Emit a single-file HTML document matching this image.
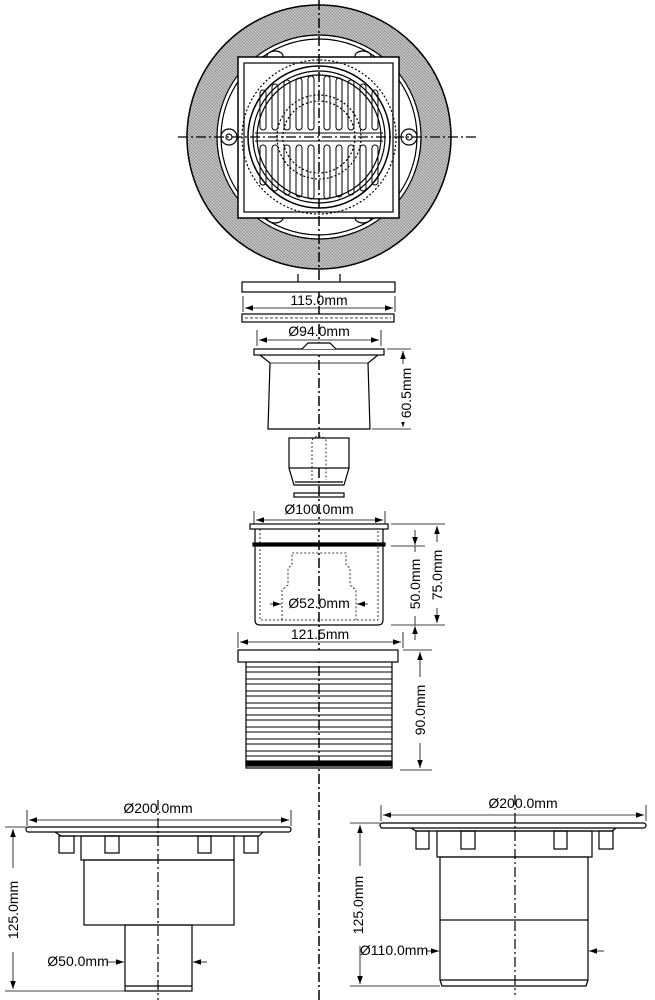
<!DOCTYPE html>
<html><head><meta charset="utf-8"><style>
html,body{margin:0;padding:0;background:#fff}
svg{display:block}
text{font-family:"Liberation Sans",sans-serif;font-size:14px;fill:#000}
</style></head><body>
<svg width="655" height="1000" viewBox="0 0 655 1000" xmlns="http://www.w3.org/2000/svg">
<defs>
<marker id="a" viewBox="0 0 10 10" refX="10" refY="5" markerWidth="8" markerHeight="8" orient="auto-start-reverse" markerUnits="userSpaceOnUse"><path d="M0,1.5 L10,5 L0,8.5z" fill="#000"/></marker>
<pattern id="hp" width="3" height="3" patternUnits="userSpaceOnUse"><rect width="3" height="3" fill="#c4c4c4"/><path d="M0,0L3,3" stroke="#777" stroke-width="0.6"/></pattern>
</defs>
<g fill="none" stroke="#000" stroke-width="1.2">
<circle cx="319" cy="137" r="117" stroke-width="30" stroke="url(#hp)"/>
<circle cx="319" cy="137" r="132" stroke-width="1.5"/>
<circle cx="319" cy="137" r="102" fill="#fff"/>
<circle cx="319" cy="137" r="98"/>
<circle cx="229" cy="137" r="8" fill="#fff"/><circle cx="229" cy="137" r="3"/>
<circle cx="409" cy="137" r="8" fill="#fff"/><circle cx="409" cy="137" r="3"/>
<ellipse cx="275" cy="56" rx="8" ry="5"/><ellipse cx="363" cy="56" rx="8" ry="5"/>
<ellipse cx="275" cy="218" rx="8" ry="5"/><ellipse cx="363" cy="218" rx="8" ry="5"/>
<rect x="238" y="57" width="161" height="161" fill="#fff" stroke-width="1.5"/>
<rect x="244" y="63" width="149" height="149"/>
<circle cx="319" cy="137" r="77" stroke-dasharray="2 2"/>
<circle cx="319" cy="137" r="71" stroke-width="1.5"/>
<circle cx="319" cy="137" r="66"/>
<circle cx="319" cy="137" r="62"/>
<circle cx="319" cy="137" r="36" stroke-dasharray="2 2"/>
<circle cx="319" cy="137" r="42" stroke-dasharray="2 2"/>
<g stroke-width="1">
<rect x="260" y="90" width="6" height="40" rx="3"/><rect x="272" y="84" width="6" height="46" rx="3"/><rect x="284" y="80" width="6" height="50" rx="3"/><rect x="296" y="78" width="6" height="52" rx="3"/><rect x="308" y="76" width="6" height="54" rx="3"/>
<rect x="324" y="76" width="6" height="54" rx="3"/><rect x="336" y="78" width="6" height="52" rx="3"/><rect x="348" y="80" width="6" height="50" rx="3"/><rect x="360" y="84" width="6" height="46" rx="3"/><rect x="372" y="90" width="6" height="40" rx="3"/>
<rect x="260" y="145" width="6" height="40" rx="3"/><rect x="272" y="145" width="6" height="46" rx="3"/><rect x="284" y="145" width="6" height="50" rx="3"/><rect x="296" y="145" width="6" height="52" rx="3"/><rect x="308" y="145" width="6" height="54" rx="3"/>
<rect x="324" y="145" width="6" height="54" rx="3"/><rect x="336" y="145" width="6" height="52" rx="3"/><rect x="348" y="145" width="6" height="50" rx="3"/><rect x="360" y="145" width="6" height="46" rx="3"/><rect x="372" y="145" width="6" height="40" rx="3"/>
<line x1="255" y1="133" x2="383" y2="133"/><line x1="255" y1="141" x2="383" y2="141"/>
</g>
<line x1="319" y1="0" x2="319" y2="1000" stroke-dasharray="10 3 2 3" stroke-width="1.5"/>
<line x1="178" y1="137" x2="476" y2="137" stroke-dasharray="10 3 2 3"/>

<line x1="298" y1="274" x2="298" y2="282"/><line x1="340" y1="274" x2="340" y2="282"/>
<rect x="242" y="282" width="153" height="10" fill="#fff"/>
<line x1="243" y1="296" x2="243" y2="312" stroke-width="0.8"/><line x1="395" y1="296" x2="395" y2="312" stroke-width="0.8"/>
<line x1="245" y1="308" x2="393" y2="308" stroke-width="0.8" marker-start="url(#a)" marker-end="url(#a)"/>
<rect x="242" y="314" width="152" height="8" fill="#fff"/>
<line x1="245" y1="318" x2="391" y2="318" stroke-dasharray="3 2" stroke-width="0.8"/>
<line x1="257" y1="330" x2="257" y2="346" stroke-width="0.8"/><line x1="381" y1="330" x2="381" y2="346" stroke-width="0.8"/>
<line x1="259" y1="340" x2="379" y2="340" stroke-width="0.8" marker-start="url(#a)" marker-end="url(#a)"/>

<rect x="254" y="349" width="130" height="6" fill="#fff"/>
<path d="M302 349 L308 343 L330 343 L336 349" fill="#fff"/>
<path d="M260 355 L270 363 L268 429 L370 429 L368 363 L378 355"/>
<line x1="270" y1="363" x2="368" y2="363" stroke-width="0.8"/>
<line x1="387" y1="349" x2="411" y2="349" stroke-width="0.8"/><line x1="372" y1="429" x2="411" y2="429" stroke-width="0.8"/>
<line x1="403" y1="351" x2="403" y2="427" stroke-width="0.8" marker-start="url(#a)" marker-end="url(#a)"/>
<rect x="289" y="438" width="60" height="30" fill="#fff"/>
<path d="M289 468 L294 485 L344 485 L349 468"/>
<line x1="295" y1="482" x2="343" y2="482"/>
<rect x="294" y="493" width="50" height="4"/>
<path d="M312 480 L312 440 Q319 432 326 440 L326 480" stroke-dasharray="2 2" stroke-width="0.8"/>

<line x1="254" y1="511" x2="254" y2="527" stroke-width="0.8"/><line x1="385" y1="511" x2="385" y2="527" stroke-width="0.8"/>
<line x1="256" y1="520" x2="383" y2="520" stroke-width="0.8" marker-start="url(#a)" marker-end="url(#a)"/>
<rect x="250" y="524" width="138" height="5" fill="#fff"/>
<path d="M255 529 L255 620 Q255 625 260 625 L378 625 Q383 625 383 620 L383 529"/>
<rect x="253" y="543" width="132" height="3" fill="#000"/>
<path d="M260 529 L260 620 L378 620 L378 529" stroke-dasharray="2 2" stroke-width="0.8"/>
<path d="M282 620 L282 590 L288 585 L288 568 L292 565 L292 553 L346 553 L346 565 L350 568 L350 585 L356 590 L356 620" stroke-dasharray="2 2" stroke-width="0.8"/>
<line x1="270" y1="604" x2="281" y2="604" stroke-width="0.8" marker-end="url(#a)"/>
<line x1="368" y1="604" x2="357" y2="604" stroke-width="0.8" marker-end="url(#a)"/>
<line x1="391" y1="524" x2="445" y2="524" stroke-width="0.8"/><line x1="391" y1="625" x2="445" y2="625" stroke-width="0.8"/>
<line x1="391" y1="546" x2="425" y2="546" stroke-width="0.8"/>
<line x1="415" y1="530" x2="415" y2="545" stroke-width="0.8" marker-end="url(#a)"/>
<line x1="415" y1="640" x2="415" y2="626" stroke-width="0.8" marker-end="url(#a)"/>
<line x1="415" y1="546" x2="415" y2="625" stroke-width="0.8"/>
<line x1="437" y1="526" x2="437" y2="623" stroke-width="0.8" marker-start="url(#a)" marker-end="url(#a)"/>

<line x1="238" y1="632" x2="238" y2="648" stroke-width="0.8"/><line x1="403" y1="632" x2="403" y2="648" stroke-width="0.8"/>
<line x1="240" y1="642" x2="401" y2="642" stroke-width="0.8" marker-start="url(#a)" marker-end="url(#a)"/>
<rect x="238" y="650" width="160" height="12" fill="#fff"/>
<path d="M246 662 L246 768 L392 768 L392 662"/>
<g stroke-width="1">
<line x1="246" y1="667" x2="392" y2="667"/><line x1="246" y1="672" x2="392" y2="672"/>
<line x1="246" y1="679" x2="392" y2="679"/><line x1="246" y1="684" x2="392" y2="684"/>
<line x1="246" y1="691" x2="392" y2="691"/><line x1="246" y1="696" x2="392" y2="696"/>
<line x1="246" y1="703" x2="392" y2="703"/><line x1="246" y1="708" x2="392" y2="708"/>
<line x1="246" y1="715" x2="392" y2="715"/><line x1="246" y1="720" x2="392" y2="720"/>
<line x1="246" y1="727" x2="392" y2="727"/><line x1="246" y1="732" x2="392" y2="732"/>
<line x1="246" y1="739" x2="392" y2="739"/><line x1="246" y1="744" x2="392" y2="744"/>
<line x1="246" y1="751" x2="392" y2="751"/><line x1="246" y1="756" x2="392" y2="756"/>
</g>
<rect x="246" y="761" width="146" height="5" fill="#000"/>
<line x1="403" y1="650" x2="432" y2="650" stroke-width="0.8"/><line x1="400" y1="770" x2="432" y2="770" stroke-width="0.8"/>
<line x1="420" y1="652" x2="420" y2="768" stroke-width="0.8" marker-start="url(#a)" marker-end="url(#a)"/>

<line x1="27" y1="810" x2="27" y2="826" stroke-width="0.8"/><line x1="291" y1="810" x2="291" y2="826" stroke-width="0.8"/>
<line x1="29" y1="820" x2="289" y2="820" stroke-width="0.8" marker-start="url(#a)" marker-end="url(#a)"/>
<rect x="26" y="827" width="265" height="5" rx="2.5" fill="#fff"/>
<path d="M55 832 L61 836 L259 836 L263 832"/>
<rect x="59" y="836" width="15" height="17"/><rect x="105" y="836" width="14" height="17"/><rect x="198" y="836" width="13" height="17"/><rect x="244" y="836" width="14" height="17"/>
<rect x="81" y="836" width="153" height="24"/>
<rect x="84" y="860" width="150" height="65"/>
<rect x="125" y="925" width="67" height="66"/>
<line x1="125" y1="986" x2="192" y2="986"/>
<line x1="5" y1="827" x2="26" y2="827" stroke-width="0.8"/><line x1="5" y1="991" x2="125" y2="991" stroke-width="0.8"/>
<line x1="13" y1="829" x2="13" y2="989" stroke-width="0.8" marker-start="url(#a)" marker-end="url(#a)"/>
<rect x="5" y="868" width="16" height="84" fill="#fff" stroke="none"/>
<line x1="107" y1="962" x2="124" y2="962" stroke-width="0.8" marker-end="url(#a)"/>
<line x1="207" y1="962" x2="193" y2="962" stroke-width="0.8" marker-end="url(#a)"/>
<line x1="158" y1="800" x2="158" y2="1000" stroke-dasharray="10 3 2 3"/>

<line x1="381" y1="805" x2="381" y2="821" stroke-width="0.8"/><line x1="646" y1="805" x2="646" y2="821" stroke-width="0.8"/>
<line x1="383" y1="815" x2="644" y2="815" stroke-width="0.8" marker-start="url(#a)" marker-end="url(#a)"/>
<rect x="380" y="823" width="266" height="5" rx="2.5" fill="#fff"/>
<path d="M411 828 L416 831 L612 831 L616 828"/>
<rect x="416" y="831" width="13" height="18"/><rect x="461" y="831" width="14" height="18"/><rect x="554" y="831" width="13" height="18"/><rect x="599" y="831" width="14" height="18"/>
<rect x="437" y="831" width="155" height="26"/>
<rect x="440" y="857" width="148" height="63"/>
<path d="M440 920 L440 980 L442 986 L586 986 L588 980 L588 920"/>
<line x1="440" y1="980" x2="588" y2="980"/>
<line x1="350" y1="823" x2="380" y2="823" stroke-width="0.8"/><line x1="350" y1="986" x2="440" y2="986" stroke-width="0.8"/>
<line x1="360" y1="825" x2="360" y2="984" stroke-width="0.8" marker-start="url(#a)" marker-end="url(#a)"/>
<rect x="352" y="866" width="16" height="80" fill="#fff" stroke="none"/>
<line x1="426" y1="951" x2="439" y2="951" stroke-width="0.8" marker-end="url(#a)"/>
<line x1="604" y1="951" x2="589" y2="951" stroke-width="0.8" marker-end="url(#a)"/>
<line x1="515" y1="795" x2="515" y2="995" stroke-dasharray="10 3 2 3"/>
</g>

<rect x="396" y="364" width="14" height="58" fill="#fff"/>
<text x="406" y="393" transform="rotate(-90 406 393)" text-anchor="middle" dominant-baseline="central">60.5mm</text>
<text x="319" y="305" text-anchor="middle">115.0mm</text>
<text x="319" y="336" text-anchor="middle">Ø94.0mm</text>
<text x="319" y="514" text-anchor="middle">Ø100.0mm</text>
<text x="319" y="608" text-anchor="middle" font-size="13">Ø52.0mm</text>
<rect x="408" y="552" width="14" height="64" fill="#fff"/>
<text x="415" y="584" transform="rotate(-90 415 584)" text-anchor="middle" dominant-baseline="central">50.0mm</text>
<rect x="430" y="542" width="14" height="66" fill="#fff"/>
<text x="437" y="575" transform="rotate(-90 437 575)" text-anchor="middle" dominant-baseline="central">75.0mm</text>
<text x="320" y="639" text-anchor="middle">121.5mm</text>
<rect x="413" y="677" width="14" height="66" fill="#fff"/>
<text x="420" y="710" transform="rotate(-90 420 710)" text-anchor="middle" dominant-baseline="central">90.0mm</text>
<text x="158" y="813" text-anchor="middle">Ø200.0mm</text>
<text x="13" y="910" transform="rotate(-90 13 910)" text-anchor="middle" dominant-baseline="central">125.0mm</text>
<text x="78" y="966" text-anchor="middle" font-size="13">Ø50.0mm</text>
<text x="523" y="808" text-anchor="middle">Ø200.0mm</text>
<text x="358" y="905" transform="rotate(-90 358 905)" text-anchor="middle" dominant-baseline="central">125.0mm</text>
<text x="394" y="955" text-anchor="middle" font-size="13">Ø110.0mm</text>
</svg>
</body></html>
